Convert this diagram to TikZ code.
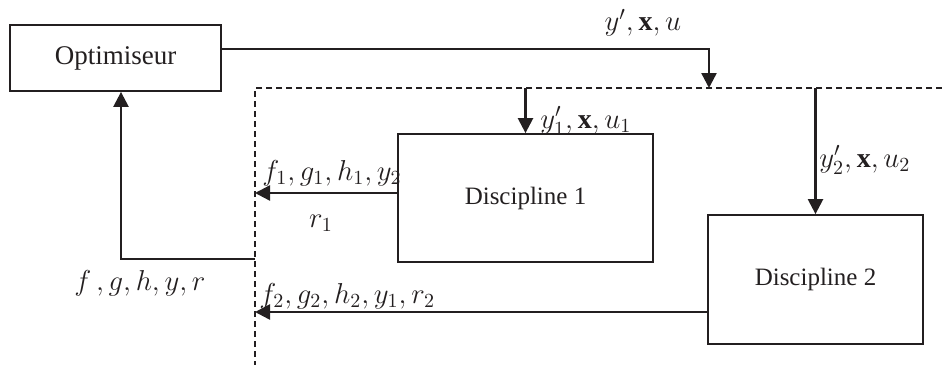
\documentclass[tikz,border=0pt]{standalone}
\usepackage{amsmath,amssymb}
\usepackage{fontspec}
\setmainfont{Liberation Serif}
\usepackage{tikz}
\usetikzlibrary{arrows.meta,positioning}
\definecolor{inkgrey}{RGB}{35,31,32}

\begin{document}
\begin{tikzpicture}[
  x=0.5pt, y=-0.5pt,
  font=\fontsize{14}{16}\selectfont,
  block/.style={
    draw=inkgrey,
    line width=0.9pt,
    text=inkgrey,
    inner sep=0pt,
    font=\fontsize{12.5}{14}\selectfont
  },
  arrow/.style={-{Triangle[length=7.5pt,width=7.5pt]},line width=1.2pt,draw=inkgrey},
  frame/.style={dashed,dash pattern=on 3pt off 2pt,line width=0.9pt,draw=inkgrey},
  lbl/.style={text=inkgrey,inner sep=1pt}
]
\useasboundingbox (0,0) rectangle (942,365);
\node[block, minimum width=105.5pt, minimum height=33pt, font=\fontsize{13.5}{15}\selectfont] (opt) at (115.5,58) {Optimiseur};
\node[block, minimum width=127.5pt, minimum height=64pt] (d1) at (525.5,198) {Discipline 1};
\node[block, minimum width=107.5pt, minimum height=64.5pt] (d2) at (815.5,279.5) {Discipline 2};
% dashed frame of the coupled system
\coordinate (corner) at (255,88);
\coordinate (frameR) at (942,88);
\coordinate (frameB) at (255,365);
\coordinate (split) at (709,88);
\coordinate (in1) at (525.5,88);
\coordinate (in2) at (815.5,88);
\coordinate (fb) at (255,259);
\draw[frame] (frameR) -- (corner) -- (frameB);
\draw[arrow] ([yshift=4.5pt]opt.east) -| (split);
\draw[arrow] (in1) -- (d1.north);
\draw[arrow] (in2) -- (d2.north);
\draw[arrow] ([yshift=2.5pt]d1.west) -- ([yshift=2.5pt]d1.west -| corner);
\draw[arrow] ([yshift=-16.25pt]d2.west) -- ([yshift=-16.25pt]d2.west -| corner);
\draw[arrow] (fb) -| ([xshift=2.75pt]opt.south);
\node[lbl] (lblin) at (643,23) {$y',\mathbf{x},u$};
\node[lbl, anchor=west] (lblin1) at (538,121) {$y_1',\mathbf{x},u_1$};
\node[lbl, anchor=west] (lblin2) at (817,160) {$y_2',\mathbf{x},u_2$};
\node[lbl, anchor=west] (lblout1) at (260,173) {$f_1,g_1,h_1,y_2$};
\node[lbl] (lblr1) at (321,223) {$r_1$};
\node[lbl, font=\fontsize{15.5}{17}\selectfont] (lblout) at (140,283) {$f\,,g,h,y,r$};
\node[lbl, anchor=west] (lblout2) at (257,296) {$f_2,g_2,h_2,y_1,r_2$};
\end{tikzpicture}
\end{document}
